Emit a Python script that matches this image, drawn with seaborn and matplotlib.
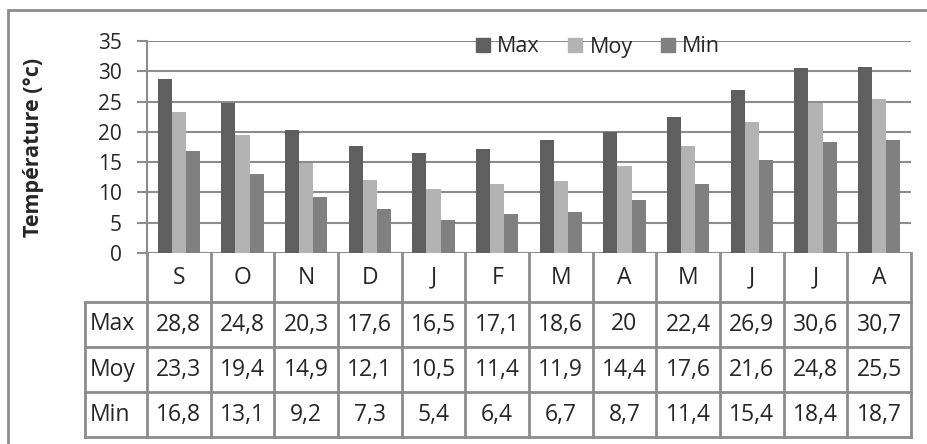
import matplotlib
matplotlib.use("Agg")
import matplotlib.pyplot as plt
import matplotlib.patches as mpatches
import numpy as np
import pandas as pd
import seaborn as sns

# Monthly temperatures (°C), September to August
months = ["S", "O", "N", "D", "J", "F", "M", "A", "M", "J", "J", "A"]
t_max = [28.8, 24.8, 20.3, 17.6, 16.5, 17.1, 18.6, 20.0, 22.4, 26.9, 30.6, 30.7]
t_moy = [23.3, 19.4, 14.9, 12.1, 10.5, 11.4, 11.9, 14.4, 17.6, 21.6, 24.8, 25.5]
t_min = [16.8, 13.1, 9.2, 7.3, 5.4, 6.4, 6.7, 8.7, 11.4, 15.4, 18.4, 18.7]
series_names = ["Max", "Moy", "Min"]
y_ticks = [0, 5, 10, 15, 20, 25, 30, 35]

colors = {"Max": "#5f5f5f", "Moy": "#b3b3b3", "Min": "#808080"}
line_c = "#8c8c8c"

sns.set_style("white")
plt.rcParams["font.family"] = ["Open Sans", "DejaVu Sans"]
FS_TICK = 15
FS_TAB = 16.5
FS_LEG = 15.5
FS_YLAB = 15.5

W, H = 928, 444
fig = plt.figure(figsize=(W / 100, H / 100), dpi=100)


def fx(px):
    return px / W


def fy(py):
    return 1 - py / H


# Long-format data for the grouped bars
values = {"Max": t_max, "Moy": t_moy, "Min": t_min}
rows = []
for s in series_names:
    for i, v in enumerate(values[s]):
        rows.append({"idx": i, "serie": s, "val": v})
df = pd.DataFrame(rows)

# Bar area
ax = fig.add_axes([fx(147), fy(253), fx(911) - fx(147), fy(41) - fy(253)])
sns.barplot(data=df, x="idx", y="val", hue="serie", hue_order=series_names,
            palette=colors, width=0.66, gap=0, saturation=1, ax=ax,
            edgecolor="none", linewidth=0, zorder=3)
ax.set_xlim(-0.5, len(months) - 0.5)
ax.set_ylim(0, 35)
ax.set_yticks(y_ticks)
ax.set_yticklabels([str(t) for t in y_ticks], fontsize=FS_TICK)
ax.set_xticks([])
ax.set_xlabel("")
ax.set_ylabel("")
ax.grid(axis="y", color=line_c, linewidth=1.5, zorder=0)
ax.set_axisbelow(True)
for side in ["top", "right", "bottom"]:
    ax.spines[side].set_visible(False)
ax.spines["left"].set_color(line_c)
ax.spines["left"].set_linewidth(1.5)
ax.tick_params(axis="y", which="major", direction="out", length=7, width=1.5,
               color=line_c, pad=11, left=True)
ax.patch.set_alpha(0)

# Legend across the top
leg = ax.get_legend()
if leg is not None:
    leg.remove()
handles = [mpatches.Patch(color=colors[s], label=s) for s in series_names]
fig.legend(handles=handles, loc="center", bbox_to_anchor=(fx(598), fy(47)),
           ncol=3, frameon=False, fontsize=FS_LEG, handlelength=0.65,
           handleheight=0.65, handletextpad=0.35, columnspacing=1.3,
           borderpad=0)

# Data table below the bars
tab = fig.add_axes([fx(85), fy(437), fx(911) - fx(85), fy(253) - fy(437)])
label_w = (147 - 85) / ((911 - 147) / len(months))
x_left = -0.5 - label_w
x_right = len(months) - 0.5
tab.set_xlim(x_left, x_right)
row_edges = [0, 49, 94, 139, 184]
tab.set_ylim(row_edges[-1], row_edges[0])
tab.axis("off")

lw = 2
# horizontal row lines
for y in row_edges[1:]:
    tab.plot([x_left, x_right], [y, y], color=line_c, lw=lw,
             solid_capstyle="projecting", clip_on=False)
# vertical column lines
for j in range(len(months) + 1):
    x = j - 0.5
    tab.plot([x, x], [row_edges[0], row_edges[-1]], color=line_c, lw=lw,
             solid_capstyle="projecting", clip_on=False)
tab.plot([x_left, x_left], [row_edges[1], row_edges[-1]], color=line_c, lw=lw,
         solid_capstyle="projecting", clip_on=False)


def fmt(v):
    return f"{v:g}".replace(".", ",")


for j, m in enumerate(months):
    tab.text(j, (row_edges[0] + row_edges[1]) / 2, m, ha="center",
             va="center", fontsize=FS_TAB)
for r, s in enumerate(series_names):
    yc = (row_edges[r + 1] + row_edges[r + 2]) / 2
    tab.text(x_left + 0.08, yc, s, ha="left", va="center", fontsize=FS_TAB)
    for j, v in enumerate(values[s]):
        tab.text(j, yc, fmt(v), ha="center", va="center", fontsize=FS_TAB)

# Y axis title
fig.text(fx(34), fy(147), "Température (°c)", rotation=90, ha="center",
         va="center", fontsize=FS_YLAB, fontweight="bold")

# Chart border
fig.patches.append(mpatches.Rectangle((fx(8), -0.1), 1.2, fy(10) + 0.1,
                                      transform=fig.transFigure, fill=False,
                                      edgecolor=line_c, linewidth=2))

fig.savefig("out.png", dpi=100)
